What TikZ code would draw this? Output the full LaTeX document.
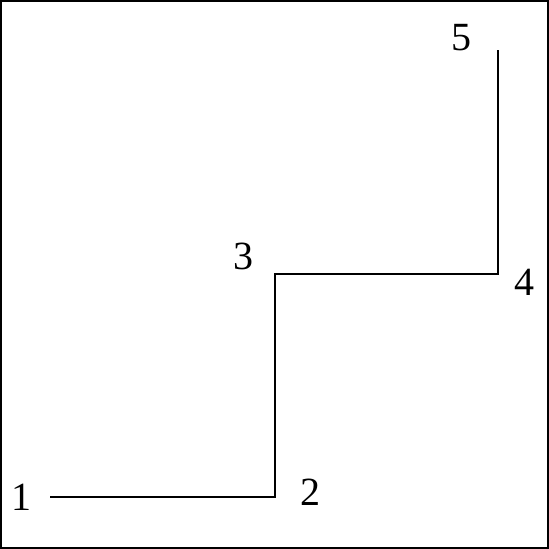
\documentclass[tikz,border=0pt]{standalone}
\usepackage{fontspec}
\setmainfont{Liberation Serif}
\begin{document}
\begin{tikzpicture}[x=1pt,y=-1pt,line width=2pt,
    every node/.style={font=\fontsize{40}{44}\selectfont}]
  % frame
  \draw (1,1) rectangle (548,548);
  % corner points of the path
  \coordinate (p1) at (50,497);
  \coordinate (p2) at (275,497);
  \coordinate (p3) at (275,274);
  \coordinate (p4) at (498,274);
  \coordinate (p5) at (498,50);
  \draw (p1) -- (p2) -- (p3) -- (p4) -- (p5);
  % labels
  \node (n1) at (22,497) {1};
  \node (n2) at (310,492.5) {2};
  \node (n3) at (243,256) {3};
  \node (n4) at (524.5,282.5) {4};
  \node (n5) at (461,37.5) {5};
\end{tikzpicture}
\end{document}
